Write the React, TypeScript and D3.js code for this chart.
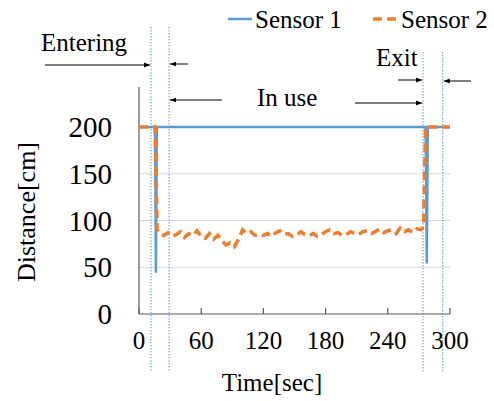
import React from "react";
import * as d3 from "d3";

// Sensor 1: flat at 200 with two short drops
const s1Time = [0, 15.5, 16.3, 17.2, 276.5, 277.6, 278.6, 300];
const s1Dist = [200, 200, 44, 200, 200, 54, 200, 200];

// Sensor 2: drops to ~85 while in use
const s2Time = [0, 15.5, 17.5, 20, 24, 28, 32, 36, 40, 44, 48, 52, 56, 60, 64, 68, 72, 76, 80, 84, 88, 92, 96, 100,
  104, 108, 112, 116, 120, 124, 128, 132, 136, 140, 144, 148, 152, 156, 160, 164, 168, 172, 176, 180, 184, 188,
  192, 196, 200, 204, 208, 212, 216, 220, 224, 228, 232, 236, 240, 244, 248, 252, 256, 260, 264, 268, 272, 274.5,
  276.5, 300];
const s2Dist = [200, 200, 90, 86, 84, 87, 83, 85, 88, 82, 86, 84, 89, 83, 81, 86, 80, 84, 78, 74, 76, 72, 80, 90,
  86, 88, 84, 85, 84, 86, 83, 87, 89, 85, 86, 83, 84, 88, 85, 84, 86, 83, 85, 88, 90, 86, 87, 84, 85, 88, 86, 85,
  88, 89, 86, 88, 91, 87, 89, 90, 86, 92, 88, 90, 87, 91, 90, 93, 200, 200];

const xTicks = [0, 60, 120, 180, 240, 300];
const yTicks = [0, 50, 100, 150, 200];
const markers = [11.6, 29, 274, 293];

const FONT = "Liberation Serif, Times New Roman, serif";

export default function App() {
  const x = d3.scaleLinear().domain([0, 300]).range([139, 450]);
  const y = d3.scaleLinear().domain([0, 200]).range([314, 127]);

  const line = d3
    .line<[number, number]>()
    .x((d) => x(d[0]))
    .y((d) => y(d[1]));

  const s1 = line(s1Time.map((t, i) => [t, s1Dist[i]]))!;
  const s2 = line(s2Time.map((t, i) => [t, s2Dist[i]]))!;

  const arrow = (x1: number, x2: number, yy: number, key: string) => (
    <line key={key} x1={x1} x2={x2} y1={yy} y2={yy} stroke="#000" strokeWidth={1} markerEnd="url(#ah)" />
  );

  return (
    <svg width={494} height={401} style={{ position: "absolute", left: 0, top: 0, background: "#fff" }}>
      <defs>
        <marker id="ah" viewBox="0 0 10 10" refX="10" refY="5" markerWidth="6" markerHeight="6" orient="auto">
          <path d="M0,1L10,5L0,9z" fill="#000" />
        </marker>
      </defs>
      <rect width={494} height={401} fill="#fff" />
      {yTicks.slice(1).map((t) => (
        <line key={t} x1={x(0)} x2={x(300)} y1={y(t)} y2={y(t)} stroke="#d9d9d9" strokeWidth={1} />
      ))}
      <line x1={x(0)} x2={x(0)} y1={87} y2={y(0)} stroke="#595959" strokeWidth={1.2} />
      <line x1={x(0)} x2={x(300)} y1={y(0)} y2={y(0)} stroke="#595959" strokeWidth={1.2} />
      {xTicks.map((t) => (
        <line key={t} x1={x(t)} x2={x(t)} y1={y(0)} y2={y(0) - 6} stroke="#595959" strokeWidth={1.2} />
      ))}
      {yTicks.map((t) => (
        <text key={t} x={112} y={y(t)} dy="0.35em" textAnchor="end" fontFamily={FONT} fontSize={29} fill="#000">
          {t}
        </text>
      ))}
      {xTicks.map((t) => (
        <text key={t} x={x(t)} y={349} textAnchor="middle" fontFamily={FONT} fontSize={25} fill="#000">
          {t}
        </text>
      ))}
      <text x={272} y={391} textAnchor="middle" fontFamily={FONT} fontSize={25} fill="#000">
        Time[sec]
      </text>
      <text transform="translate(35,212) rotate(-90)" textAnchor="middle" fontFamily={FONT} fontSize={26} fill="#000">
        Distance[cm]
      </text>

      {markers.map((m, i) => (
        <line key={i} x1={x(m)} x2={x(m)} y1={i < 2 ? 27 : 52} y2={372} stroke="#5b9bd5" strokeWidth={1} strokeDasharray="1.5,1.5" />
      ))}

      <path d={s1} fill="none" stroke="#5b9bd5" strokeWidth={2.5} />
      <path d={s2} fill="none" stroke="#ed7d31" strokeWidth={3.5} strokeDasharray="9,5" />

      {arrow(45, x(markers[0]) - 1, 65, "a1")}
      {arrow(188, x(markers[1]) + 1, 64, "a2")}
      {arrow(222, x(markers[1]) + 1, 100, "a3")}
      {arrow(355, x(markers[2]) - 1, 103, "a4")}
      {arrow(398, x(markers[2]) - 1, 80, "a5")}
      {arrow(471, x(markers[3]) + 1, 81, "a6")}

      <text x={41} y={51} fontFamily={FONT} fontSize={25} fill="#000">Entering</text>
      <text x={376} y={66} fontFamily={FONT} fontSize={25} fill="#000">Exit</text>
      <text x={257} y={106} fontFamily={FONT} fontSize={25} fill="#000">In use</text>

      <line x1={228} x2={252} y1={19} y2={19} stroke="#5b9bd5" strokeWidth={2.5} />
      <text x={255} y={28} fontFamily={FONT} fontSize={25} fill="#000">Sensor 1</text>
      <line x1={373} x2={398} y1={19} y2={19} stroke="#ed7d31" strokeWidth={3.5} strokeDasharray="9,5" />
      <text x={401} y={28} fontFamily={FONT} fontSize={25} fill="#000">Sensor 2</text>
    </svg>
  );
}
